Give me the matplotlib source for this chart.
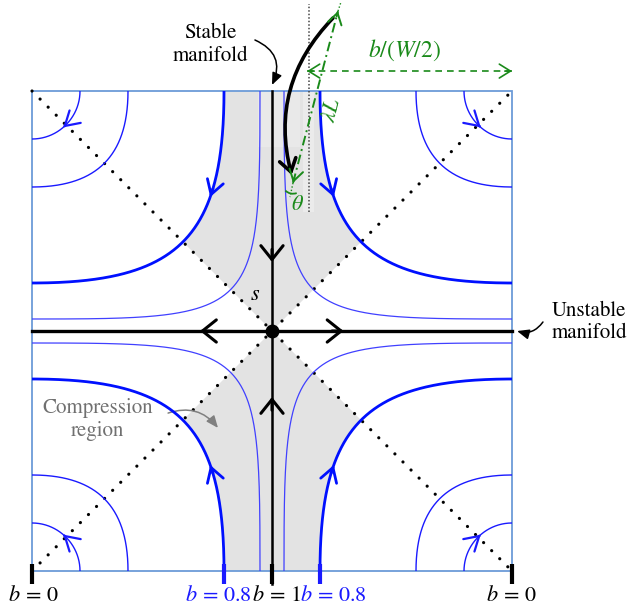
import numpy as np
import matplotlib
matplotlib.use("Agg")
import matplotlib.pyplot as plt
from matplotlib.patches import Arc, Rectangle

plt.rcParams['font.family'] = ['STIXGeneral', 'DejaVu Serif']
plt.rcParams['mathtext.fontset'] = 'stix'

# streamlines, labelled by the value of b where they leave the top edge
stream_b = [0.95, 0.8, 0.4, 0.2]
stream_k = [0.94, 0.61, 0.27, 0.11]     # bezier handle length
stream_lw = [0.9, 2.0, 1.0, 1.0]
stream_col = ['#4040ff', '#0010ff', '#1a1aff', '#1a1aff']
stream_arrow_t = [None, 0.30, None, 0.55]
stream_arrow_lw = [None, 2.0, None, 1.6]

tick_b = ['0', '0.8', '1', '0.8', '0']
tick_u = [-1.0, -0.2, 0.0, 0.2, 1.0]
tick_label_u = [-0.996, -0.225, 0.017, 0.254, 0.998]
tick_col = ['black', '#1a1aff', 'black', '#1a1aff', 'black']

quadrants = [(-1, 1), (1, 1), (-1, -1), (1, -1)]

BLUE_BOX = '#6c9bd8'
GREEN = '#1a8a1a'
FILL = '#e3e3e3'


def bezier(a, k, t):
    t = np.asarray(t, dtype=float)[:, None]
    P = np.array([[a, 1.0], [a, 1.0 - k], [1.0 - k, a], [1.0, a]])
    B = ((1 - t) ** 3 * P[0] + 3 * (1 - t) ** 2 * t * P[1]
         + 3 * (1 - t) * t ** 2 * P[2] + t ** 3 * P[3])
    return B[:, 0], B[:, 1]


def head(ax, tip, tail, color, lw, hl=0.4, hw=0.25, z=11):
    ax.annotate('', xy=tip, xytext=tail,
                arrowprops=dict(arrowstyle='->,head_length=%s,head_width=%s' % (hl, hw),
                                color=color, lw=lw, mutation_scale=20,
                                shrinkA=0, shrinkB=0), zorder=z)


fig = plt.figure(figsize=(6.28, 6.06), dpi=100)
ax = fig.add_axes([0, 0, 1, 1])
ax.set_xlim(-272 / 240, 356 / 240)
ax.set_ylim(-275 / 240, 331 / 240)
ax.axis('off')

# compression region (between diagonals, inside the b=0.8 streamline)
tt = np.linspace(0, 0.5, 100)
cu, cv = bezier(1 - 0.8, 0.61, tt)
for sy in (1, -1):
    px = np.concatenate([-cu, [0], cu[::-1]])
    py = sy * np.concatenate([cv, [0], cv[::-1]])
    ax.fill(px, py, color=FILL, lw=0, zorder=1)
ax.add_patch(Rectangle((-0.058, 0.767), 0.175, 0.233, color='#e9e9e9', lw=0, zorder=1.1))
ax.add_patch(Rectangle((0.129, 0.496), 0.046, 0.504, color='#ebebeb', lw=0, zorder=1.1))

# box
ax.add_patch(Rectangle((-1, -1), 2, 2, fill=False, ec=BLUE_BOX, lw=1.3, zorder=2))

# dotted diagonals
for s in (1, -1):
    ax.plot([-1, 1], [-s, s], color='black', lw=2.3, ls=(0, (0.02, 3.55)),
            dash_capstyle='round', zorder=3)

# streamlines
t_all = np.linspace(0, 1, 300)
for b, k, lw, col, ta, alw in zip(stream_b, stream_k, stream_lw, stream_col,
                                  stream_arrow_t, stream_arrow_lw):
    u, v = bezier(1 - b, k, t_all)
    for sx, sy in quadrants:
        ax.plot(sx * u, sy * v, color=col, lw=lw, zorder=4, solid_capstyle='butt')
        if ta is not None:
            au, av = bezier(1 - b, k, [ta - 0.03, ta])
            head(ax, (sx * au[1], sy * av[1]), (sx * au[0], sy * av[0]), col, alw,
                 hl=0.5, hw=0.3, z=5)

# manifolds
ax.plot([-1, 1], [0, 0], color='black', lw=2.4, zorder=6)
ax.plot([0, 0], [-1.055, 1.0], color='black', lw=1.8, zorder=6)
ax.plot([0], [0], 'o', color='black', ms=9, zorder=7)
black_arrows = [((-0.25, 0), (-0.30, 0)), ((0.25, 0), (0.298, 0)),
                ((0, 0.34), (0, 0.2875)), ((0, -0.33), (0, -0.275))]
for tail, tip in black_arrows:
    head(ax, tip, tail, 'black', 2.2, hl=0.5, hw=0.4, z=7)

# bottom ticks and labels
for bu, lu, col, bval in zip(tick_u, tick_label_u, tick_col, tick_b):
    ax.plot([bu, bu], [-0.97, -1.055], color=col, lw=3, zorder=8, solid_capstyle='butt')
    ax.text(lu, -1.104, r'$b\,=\,%s$' % bval, color=col, fontsize=16,
            ha='center', va='center')

# annotations
ax.text(-0.258, 1.192, 'Stable\nmanifold', fontsize=15, ha='center', va='center',
        linespacing=1.2)
ax.annotate('', xy=(0, 1.025), xytext=(-0.071, 1.2125),
            arrowprops=dict(arrowstyle='-|>,head_length=0.6,head_width=0.25',
                            color='black', lw=1.1, mutation_scale=12,
                            connectionstyle='arc3,rad=-0.5', shrinkA=0, shrinkB=0))
ax.text(1.321, 0.0375, 'Unstable\nmanifold', fontsize=15, ha='center', va='center',
        linespacing=1.2)
ax.annotate('', xy=(1.021, 0), xytext=(1.129, 0.0375),
            arrowprops=dict(arrowstyle='-|>,head_length=0.6,head_width=0.25',
                            color='black', lw=1.1, mutation_scale=12,
                            connectionstyle='arc3,rad=-0.35', shrinkA=0, shrinkB=0))
ax.text(-0.725, -0.369, 'Compression\nregion', fontsize=15, ha='center', va='center',
        color='#707070', linespacing=1.2)
ax.annotate('', xy=(-0.225, -0.404), xytext=(-0.433, -0.342),
            arrowprops=dict(arrowstyle='-|>,head_length=0.6,head_width=0.25',
                            color='#808080', lw=1.1, mutation_scale=12,
                            connectionstyle='arc3,rad=-0.35', shrinkA=0, shrinkB=0))
ax.text(-0.071, 0.15, r'$s$', fontsize=16, ha='center', va='center', zorder=9)

# geometry of a fluid element near the top edge
ax.plot([0.154, 0.154], [0.496, 1.3625], color='#444444', lw=1.1, ls=(0, (1, 1.3)), zorder=9)
ax.annotate('', xy=(0.082, 0.65), xytext=(0.254, 1.304),
            arrowprops=dict(arrowstyle='->,head_length=0.45,head_width=0.3',
                            color='black', lw=2.6, mutation_scale=20,
                            connectionstyle='arc3,rad=0.28', shrinkA=0, shrinkB=0), zorder=10)

# lambda L: dash-dot segment with open heads at both ends
lam_u = [0.0875, 0.275]
lam_v = [0.617, 1.333]
ax.plot(lam_u, lam_v, color=GREEN, lw=1.4, ls=(0, (5, 2, 1, 2)), zorder=11)
du, dv = lam_u[1] - lam_u[0], lam_v[1] - lam_v[0]
head(ax, (lam_u[1], lam_v[1]), (lam_u[1] - 0.03 * du, lam_v[1] - 0.03 * dv), GREEN, 1.4)
head(ax, (lam_u[0], lam_v[0]), (lam_u[0] + 0.03 * du, lam_v[0] + 0.03 * dv), GREEN, 1.4)
ax.plot([0.275, 0.2875], [1.333, 1.371], color=GREEN, lw=1.0, ls=(0, (1, 1.5)), zorder=11)
ax.plot([0.0875, 0.075], [0.617, 0.558], color=GREEN, lw=1.0, ls=(0, (1, 1.5)), zorder=11)
ax.add_patch(Arc((0.0875, 0.617), 0.09, 0.09, theta1=225, theta2=290,
                 color=GREEN, lw=1.3, zorder=11))
ax.text(0.108, 0.525, r'$\theta$', color=GREEN, fontsize=16, ha='center', va='center', zorder=11)
ax.text(0.25, 0.921, r'$\lambda L$', color=GREEN, fontsize=16, ha='center', va='center',
        rotation=76, zorder=11)

# b/(W/2): dashed segment with open heads at both ends
bw_u = [0.146, 1.0]
ax.plot(bw_u, [1.083, 1.083], color=GREEN, lw=1.2, ls=(0, (4, 3)), zorder=11)
head(ax, (bw_u[0], 1.083), (bw_u[0] + 0.03, 1.083), GREEN, 1.2)
head(ax, (bw_u[1], 1.083), (bw_u[1] - 0.03, 1.083), GREEN, 1.2)
ax.text(0.554, 1.171, r'$b/(W/2)$', color=GREEN, fontsize=17, ha='center', va='center')

fig.savefig('out.png', dpi=100)
